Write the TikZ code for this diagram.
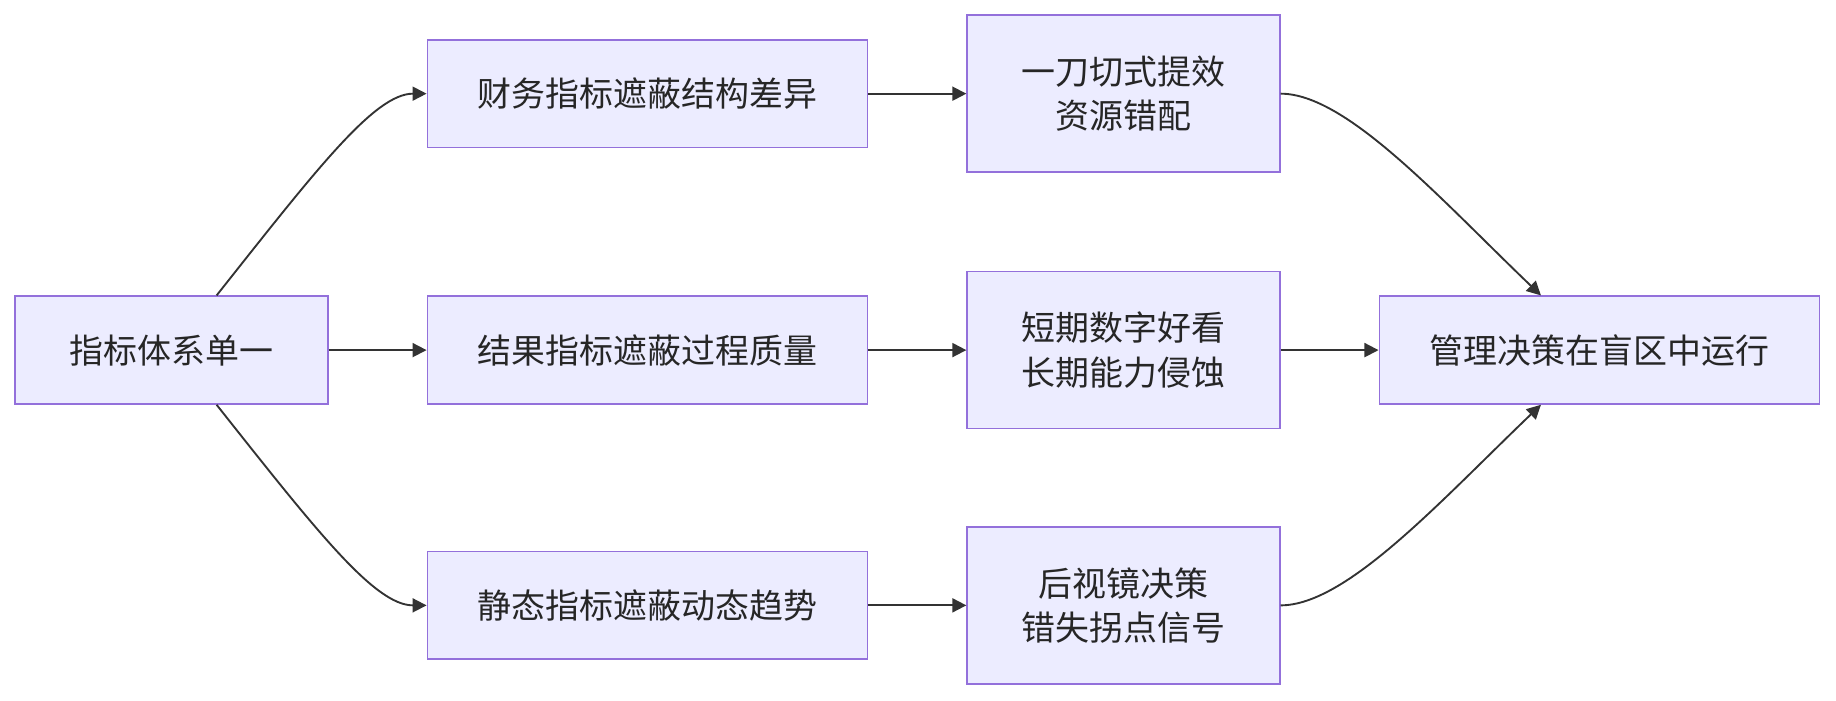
\documentclass[tikz,border=0pt]{standalone}
\usepackage{fontspec}
\setmainfont{Noto Sans CJK SC}
\usetikzlibrary{calc,arrows.meta}
\definecolor{nfill}{HTML}{ECECFF}
\definecolor{nline}{HTML}{9370DB}
\definecolor{eline}{HTML}{333333}
\begin{document}
\begin{tikzpicture}[x=0.5pt,y=-0.5pt,
  box/.style={draw=nline,fill=nfill,line width=0.7pt,inner sep=0,align=center,font=\fontsize{14.5}{19}\selectfont,text=black!85},
  e/.style={draw=eline,line width=0.8pt,-{Triangle[length=6pt,width=6pt]}}]
\useasboundingbox (0,0) rectangle (1568,598);
\node[box,minimum width=133.5pt,minimum height=46pt] (A) at (146.5,299) {指标体系单一};
\node[box,minimum width=188pt,minimum height=46pt] (B1) at (553,80) {财务指标遮蔽结构差异};
\node[box,minimum width=188pt,minimum height=46pt] (B2) at (553,299) {结果指标遮蔽过程质量};
\node[box,minimum width=188pt,minimum height=46pt] (B3) at (553,517) {静态指标遮蔽动态趋势};
\node[box,minimum width=133.5pt,minimum height=67pt] (C1) at (959.5,80) {一刀切式提效\\资源错配};
\node[box,minimum width=133.5pt,minimum height=67pt] (C2) at (959.5,299) {短期数字好看\\长期能力侵蚀};
\node[box,minimum width=133.5pt,minimum height=67pt] (C3) at (959.5,517) {后视镜决策\\错失拐点信号};
\node[box,minimum width=188pt,minimum height=46pt] (D) at (1366,299) {管理决策在盲区中运行};
\draw[e] ($(A.north)+(38.5,0)$) .. controls (270,145) and (320,80) .. (B1.west);
\draw[e] ($(A.south)+(38.5,0)$) .. controls (270,453) and (320,517) .. (B3.west);
\draw[e] (A) -- (B2);
\draw[e] (B1) -- (C1);
\draw[e] (B2) -- (C2);
\draw[e] (B3) -- (C3);
\draw[e] (C2) -- (D);
\draw[e] (C1.east) .. controls (1150,80) and (1230,170) .. ($(D.north)+(-50,0)$);
\draw[e] (C3.east) .. controls (1150,517) and (1230,428) .. ($(D.south)+(-50,0)$);
\end{tikzpicture}
\end{document}
